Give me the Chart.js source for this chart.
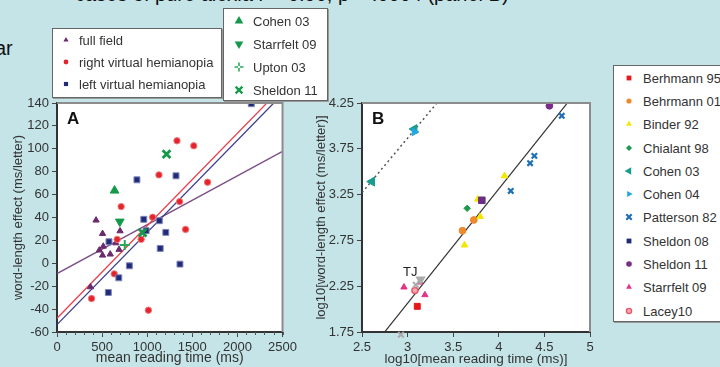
<!DOCTYPE html>
<html>
<head>
<meta charset="utf-8">
<script src="https://cdn.jsdelivr.net/npm/chart.js@4.4.1/dist/chart.umd.min.js"></script>
<style>
  html, body { margin: 0; padding: 0; }
  body {
    width: 720px; height: 367px; overflow: hidden; position: relative;
    background: #c4e4e7; color: #222;
    font-family: "Liberation Sans", Arial, sans-serif;
  }
  canvas { position: absolute; top: 0; }
  .txt { position: absolute; font-size: 20px; line-height: 20px; white-space: nowrap; color: #111; }
  .legend {
    position: absolute; background: #fff; box-sizing: border-box;
    border: 1px solid #666; box-shadow: 1px 1px 0 #999;
    font-size: 13px; color: #333; z-index: 2;
  }
  .legend .row { position: relative; }
  .legend .row svg { position: absolute; top: 50%; transform: translate(-50%, -50%); }
  .legend .row span { position: absolute; top: 50%; transform: translateY(-50%); white-space: nowrap; }
</style>
</head>
<body>

<div class="txt" style="left:75px; top:-16px;">cases of pure alexia r = 0.90, p = .0004 (panel B)</div>
<div class="txt" style="left:-5px; top:38px;">ar</div>

<div class="legend" id="legendA" style="left:52px; top:28px; width:170px; height:70px;"></div>
<div class="legend" id="legendGreen" style="left:223px; top:8px; width:105px; height:93px;"></div>
<div class="legend" id="legendB" style="left:613px; top:65px; width:120px; height:257px;"></div>

<canvas id="chartA" width="300" height="367" style="left:0;"></canvas>
<canvas id="chartB" width="310" height="367" style="left:300px;"></canvas>

<script>
// ── Panel A data (mean reading time ms, word-length effect ms/letter) ──
const fullFieldX = [433, 505, 699, 469, 513, 505, 590, 688, 652, 371];
const fullFieldY = [37.6, 25.9, 28.2, 11.4, 14.8, 7, 7.9, 12, 17.7, -20.7];

const rightHemiX = [383, 634, 667, 711, 933, 1013, 1060, 1130, 1330, 1516, 1359, 1425, 1669];
const rightHemiY = [-30.8, -9.2, 20.9, 49.5, 20.9, -41, 40.2, 77.2, 107, 102.6, 53.9, 29.6, 70.8];

const leftHemiX = [569, 685, 576, 802, 886, 962, 988, 1134, 1144, 1206, 1319, 1363, 2154];
const leftHemiY = [-25.5, -12.7, 18.8, -2.2, 72.9, 38.4, 28.5, 37.2, 13, 27, 76.4, -0.7, 139.4];

const cohen03AX = [638],       cohen03AY = [63.5];
const starrfelt09AX = [696],   starrfelt09AY = [36.4];
const upton03AX = [751],       upton03AY = [15.9];
const sheldon11AX = [1214, 948], sheldon11AY = [95.3, 26.7];

// fitted lines, end points
const fitRightX = [0, 2500], fitRightY = [-48, 154];
const fitLeftX  = [0, 2500], fitLeftY  = [-53.5, 147.8];
const fitFullX  = [0, 2500], fitFullY  = [-9, 97.7];

const ticksAX = [0, 500, 1000, 1500, 2000, 2500];
const ticksAY = [-60, -40, -20, 0, 20, 40, 60, 80, 100, 120, 140];

// ── Panel B data (log10 mean reading time, log10 word-length effect) ──
const berhmann95X = [3.106],  berhmann95Y = [2.03];
const behrmann01X = [3.602, 3.726], behrmann01Y = [2.856, 2.973];
const binder92X = [3.624, 3.77, 3.796, 4.062], binder92Y = [2.699, 3.199, 3.009, 3.454];
const chialant98X = [3.653], chialant98Y = [3.10];
const cohen03BX = [2.609, 3.073], cohen03BY = [3.392, 3.965];
const cohen04X = [3.075], cohen04Y = [3.935];
const patterson82X = [4.131, 4.343, 4.39, 4.69], patterson82Y = [3.29, 3.593, 3.673, 4.11];
const sheldon08X = [3.814], sheldon08Y = [3.188];
const sheldon11BX = [4.555], sheldon11BY = [4.22];
const starrfelt09BX = [2.96, 3.19, 3.135], starrfelt09BY = [2.239, 2.155, 2.293];
const lacey10X = [3.08], lacey10Y = [2.203];
const tjX = [3.09, 3.142, 2.927], tjY = [2.265, 2.323, 1.72];

const fitAllX = [2.5, 5], fitAllY = [1.44, 4.56];
const fitCohenX = [2.5, 5], fitCohenY = [3.272, 6.247];

const ticksBX = [2.5, 3, 3.5, 4, 4.5, 5];
const ticksBY = [1.75, 2.25, 2.75, 3.25, 3.75, 4.25];
const tjLabel = { x: 2.949, y: 2.366, text: 'TJ' };

// ── helpers ────────────────────────────────────────────────────
const pts = (xs, ys) => xs.map((x, i) => ({ x: x, y: ys[i] }));
const FONT = '"Liberation Sans", Arial, sans-serif';

function markers(label, xs, ys, style, color, r, extra) {
  return Object.assign({
    label: label,
    data: pts(xs, ys),
    pointStyle: style,
    pointRadius: r,
    pointHoverRadius: r,
    pointBackgroundColor: color,
    pointBorderColor: color,
    pointBorderWidth: 1,
    showLine: false,
    order: 1
  }, extra || {});
}

function fitLine(xs, ys, color, width, dash) {
  return {
    data: pts(xs, ys),
    showLine: true,
    borderColor: color,
    borderWidth: width,
    borderDash: dash || [],
    pointRadius: 0,
    fill: false,
    order: 2
  };
}

const panelPlugin = {
  id: 'panel',
  beforeDraw(chart) {
    const { ctx, chartArea: a } = chart;
    ctx.save();
    ctx.fillStyle = '#fff';
    ctx.fillRect(a.left, a.top, a.right - a.left, a.bottom - a.top);
    ctx.restore();
  },
  afterDraw(chart, args, opts) {
    const { ctx, chartArea: a } = chart;
    ctx.save();
    ctx.strokeStyle = '#8c8c8c';
    ctx.lineWidth = 2;
    ctx.beginPath();
    ctx.moveTo(a.left, a.top);
    ctx.lineTo(a.right, a.top);
    ctx.lineTo(a.right, a.bottom);
    ctx.stroke();
    ctx.fillStyle = '#111';
    ctx.font = 'bold 17px ' + FONT;
    ctx.textBaseline = 'alphabetic';
    ctx.fillText(opts.letter, a.left + 10, a.top + 21);
    // minor ticks
    if (opts.minorStep) {
      const xs = chart.scales.x;
      ctx.strokeStyle = '#555';
      ctx.lineWidth = 1;
      for (let v = xs.min; v <= xs.max; v += opts.minorStep) {
        const px = Math.round(xs.getPixelForValue(v)) + 0.5;
        ctx.beginPath();
        ctx.moveTo(px, a.bottom);
        ctx.lineTo(px, a.bottom + 3);
        ctx.stroke();
      }
    }
    // text labels
    (opts.labels || []).forEach(l => {
      ctx.font = '13px ' + FONT;
      ctx.fillStyle = '#222';
      ctx.fillText(l.text, chart.scales.x.getPixelForValue(l.x), chart.scales.y.getPixelForValue(l.y));
    });
    ctx.restore();
  }
};

function axis(min, max, ticks, fixed, title, titleSize, titlePad, fmt) {
  return {
    type: 'linear', min: min, max: max,
    afterBuildTicks: s => { s.ticks = ticks.map(v => ({ value: v })); },
    afterFit: s => { if (s.isHorizontal()) s.height = fixed; else s.width = fixed; },
    ticks: { color: '#333', font: { family: FONT, size: 13 }, padding: 3, callback: fmt || (v => String(v)) },
    grid: { drawOnChartArea: false, drawTicks: true, tickLength: 5, tickColor: '#444' },
    border: { display: true, color: '#333', width: 2 },
    title: { display: true, text: title, color: '#333', font: { family: FONT, size: titleSize }, padding: titlePad }
  };
}

const baseOptions = {
  responsive: false,
  animation: false,
  plugins: { legend: { display: false }, tooltip: { enabled: false } }
};

// ── Chart A ────────────────────────────────────────────────────
new Chart(document.getElementById('chartA'), {
  type: 'scatter',
  data: {
    datasets: [
      markers('Sheldon 11', sheldon11AX, sheldon11AY, 'crossRot', '#14994a', 5.5, { pointBorderWidth: 2.8 }),
      markers('Upton 03', upton03AX, upton03AY, 'cross', '#2aa85a', 5, { pointBorderWidth: 2 }),
      markers('Starrfelt 09', starrfelt09AX, starrfelt09AY, 'triangle', '#14994a', 5, { pointRotation: 180 }),
      markers('Cohen 03', cohen03AX, cohen03AY, 'triangle', '#14994a', 5),
      markers('left virtual hemianopia', leftHemiX, leftHemiY, 'rect', '#1f2a78', 4.2, { pointBorderColor: '#7f86b8' }),
      markers('right virtual hemianopia', rightHemiX, rightHemiY, 'circle', '#e3242b', 3.2, { pointBorderColor: '#f07a7e' }),
      markers('full field', fullFieldX, fullFieldY, 'triangle', '#6a2a6c', 3.6),
      fitLine(fitRightX, fitRightY, '#e8414e', 1.3),
      fitLine(fitLeftX, fitLeftY, '#3b3d8c', 1.3),
      fitLine(fitFullX, fitFullY, '#7b4f86', 1.3)
    ]
  },
  options: Object.assign({}, baseOptions, {
    layout: { padding: { top: 103, right: 14, left: 0, bottom: 0 } },
    scales: {
      x: axis(0, 2500, ticksAX, 35, 'mean reading time (ms)', 14, { top: 0, bottom: 0 }),
      y: axis(-60, 140, ticksAY, 57, 'word-length effect (ms/letter)', 13, { top: 11, bottom: 0 })
    },
    plugins: Object.assign({}, baseOptions.plugins, { panel: { letter: 'A', minorStep: 100 } })
  }),
  plugins: [panelPlugin]
});

// ── Chart B ────────────────────────────────────────────────────
new Chart(document.getElementById('chartB'), {
  type: 'scatter',
  data: {
    datasets: [
      markers('TJ', tjX, tjY, ['crossRot', 'triangle', 'crossRot'], '#ababab', 4, { pointRotation: [0, 180, 0], pointBorderWidth: 2, clip: false }),
      markers('Lacey10', lacey10X, lacey10Y, 'circle', '#f6a9b0', 3, { pointBorderColor: '#e85a6c', pointBorderWidth: 1.5 }),
      markers('Starrfelt 09', starrfelt09BX, starrfelt09BY, 'triangle', '#e0358a', 3.6),
      markers('Sheldon 11', sheldon11BX, sheldon11BY, 'circle', '#7b2c8b', 3.4, { clip: false }),
      markers('Sheldon 08', sheldon08X, sheldon08Y, 'rect', '#6a2e86', 4.6),
      markers('Patterson 82', patterson82X, patterson82Y, 'crossRot', '#1f6fb5', 3.8, { pointBorderWidth: 2.2 }),
      markers('Cohen 04', cohen04X, cohen04Y, 'triangle', '#22a7e0', 4.5, { pointRotation: 90 }),
      markers('Cohen 03', cohen03BX, cohen03BY, 'triangle', '#179c8e', 5.2, { pointRotation: -90 }),
      markers('Chialant 98', chialant98X, chialant98Y, 'rectRot', '#1a9a4a', 3.2),
      markers('Binder 92', binder92X, binder92Y, 'triangle', '#f5e600', 3.8),
      markers('Behrmann 01', behrmann01X, behrmann01Y, 'circle', '#ee8a2e', 3.4),
      markers('Berhmann 95', berhmann95X, berhmann95Y, 'rect', '#e31a1c', 4.2),
      fitLine(fitAllX, fitAllY, '#333', 1.2),
      fitLine(fitCohenX, fitCohenY, '#555', 1.5, [2, 3])
    ]
  },
  options: Object.assign({}, baseOptions, {
    layout: { padding: { top: 103, right: 20, left: 0, bottom: 0 } },
    scales: {
      x: axis(2.5, 5, ticksBX, 35, 'log10[mean reading time (ms)]', 13.5, { top: 0, bottom: 0 }),
      y: axis(1.75, 4.25, ticksBY, 62, 'log10[word-length effect (ms/letter)]', 13, { top: 14, bottom: 0 }, v => v.toFixed(2))
    },
    plugins: Object.assign({}, baseOptions.plugins, { panel: { letter: 'B', labels: [tjLabel] } })
  }),
  plugins: [panelPlugin]
});

// ── HTML legends ───────────────────────────────────────────────
function markerSvg(shape, color, r, rot, extra) {
  const s = Math.ceil(r * 2 + 4), c = s / 2;
  let body = '';
  if (shape === 'circle') {
    body = `<circle cx="${c}" cy="${c}" r="${r}" fill="${color}"${extra ? ` stroke="${extra}" stroke-width="1.4"` : ''}/>`;
  } else if (shape === 'rect') {
    body = `<rect x="${c - r * 0.8}" y="${c - r * 0.8}" width="${r * 1.6}" height="${r * 1.6}" fill="${color}"/>`;
  } else if (shape === 'diamond') {
    body = `<polygon points="${c},${c - r} ${c + r},${c} ${c},${c + r} ${c - r},${c}" fill="${color}"/>`;
  } else if (shape === 'triangle') {
    body = `<polygon points="${c},${c - r} ${c + r * 0.866},${c + r * 0.5} ${c - r * 0.866},${c + r * 0.5}" fill="${color}" transform="rotate(${rot || 0} ${c} ${c})"/>`;
  } else if (shape === 'x') {
    const d = r * 0.75;
    body = `<path d="M${c - d} ${c - d}L${c + d} ${c + d}M${c + d} ${c - d}L${c - d} ${c + d}" stroke="${color}" stroke-width="2.2"/>`;
  } else if (shape === 'plus') {
    body = `<path d="M${c} ${c - r}V${c + r}M${c - r} ${c}H${c + r}" stroke="${color}" stroke-width="1.6" stroke-dasharray="${r * 0.8} ${r * 0.4}"/>`;
  }
  return `<svg width="${s}" height="${s}" viewBox="0 0 ${s} ${s}">${body}</svg>`;
}

function buildLegend(id, entries, rowH, padTop, markX, textX) {
  const box = document.getElementById(id);
  box.style.paddingTop = padTop + 'px';
  entries.forEach(e => {
    const row = document.createElement('div');
    row.className = 'row';
    row.style.height = rowH + 'px';
    row.innerHTML = markerSvg(e.shape, e.color, e.r, e.rot, e.ring) +
      `<span style="left:${textX}px">${e.text}</span>`;
    row.querySelector('svg').style.left = markX + 'px';
    box.appendChild(row);
  });
}

const legendAEntries = [
  { text: 'full field', shape: 'triangle', color: '#6a2a6c', r: 3 },
  { text: 'right virtual hemianopia', shape: 'circle', color: '#e3242b', r: 2.4 },
  { text: 'left virtual hemianopia', shape: 'rect', color: '#1f2a78', r: 2.6 }
];
const legendGreenEntries = [
  { text: 'Cohen 03', shape: 'triangle', color: '#14994a', r: 5 },
  { text: 'Starrfelt 09', shape: 'triangle', color: '#14994a', r: 5, rot: 180 },
  { text: 'Upton 03', shape: 'plus', color: '#2aa85a', r: 4.5 },
  { text: 'Sheldon 11', shape: 'x', color: '#14994a', r: 4.5 }
];
const legendBEntries = [
  { text: 'Berhmann 95', shape: 'rect', color: '#e31a1c', r: 3 },
  { text: 'Behrmann 01', shape: 'circle', color: '#ee8a2e', r: 2.6 },
  { text: 'Binder 92', shape: 'triangle', color: '#f5e600', r: 3.4 },
  { text: 'Chialant 98', shape: 'diamond', color: '#1a9a4a', r: 3 },
  { text: 'Cohen 03', shape: 'triangle', color: '#179c8e', r: 4.4, rot: -90 },
  { text: 'Cohen 04', shape: 'triangle', color: '#22a7e0', r: 3.6, rot: 90 },
  { text: 'Patterson 82', shape: 'x', color: '#1f6fb5', r: 3.6 },
  { text: 'Sheldon 08', shape: 'rect', color: '#1f2a78', r: 3 },
  { text: 'Sheldon 11', shape: 'circle', color: '#7b2c8b', r: 2.8 },
  { text: 'Starrfelt 09', shape: 'triangle', color: '#e0358a', r: 3.4 },
  { text: 'Lacey10', shape: 'circle', color: '#f6a9b0', r: 2.6, ring: '#e85a6c' }
];

buildLegend('legendA', legendAEntries, 22, 0, 13, 26);
buildLegend('legendGreen', legendGreenEntries, 23, 0, 15, 29);
buildLegend('legendB', legendBEntries, 23.3, 0, 15, 29);
</script>
</body>
</html>
